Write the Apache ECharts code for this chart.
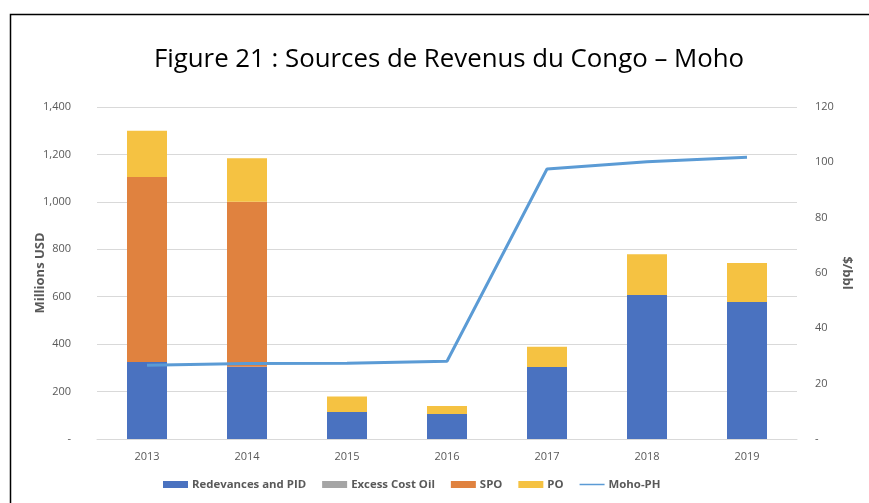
<!DOCTYPE html>
<html><head><meta charset="utf-8">
<script src="https://cdn.jsdelivr.net/npm/echarts@6/dist/echarts.min.js"></script>
<style>html,body{margin:0;padding:0;background:#fff}#c{width:869px;height:503px}</style>
</head><body><div id="c"></div>
<script>
const categories = ['2013','2014','2015','2016','2017','2018','2019'];
const redevances = [325, 305, 114, 105, 304, 607, 578];
const excessCostOil = [0, 0, 0, 0, 0, 0, 0];
const spo = [780, 695, 0, 0, 0, 0, 0];
const po = [195, 184, 65, 34, 85, 172, 164];
const mohoPH = [26.7, 27.3, 27.4, 28.1, 97.6, 100.2, 101.8];
const leftTicks = ['-', '200', '400', '600', '800', '1,000', '1,200', '1,400'];
const rightTicks = ['-', '20', '40', '60', '80', '100', '120'];

const font = 'Open Sans, Liberation Sans, sans-serif';
const lineIcon = 'path://M0,0h0.01v0.01h-0.01z M0,2.6h26v1.8h-26z M0,7h0.01v0.01h-0.01z';
const chart = echarts.init(document.getElementById('c'));
chart.setOption({
  animation: false,
  textStyle: {fontFamily: font},
  title: {text: 'Figure 21 : Sources de Revenus du Congo \u2013 Moho', left: 444, textAlign: 'center', top: 42,
    textStyle: {fontSize: 25.8, fontWeight: 'normal', color: '#000', fontFamily: font}},
  graphic: [{type: 'rect', shape: {x: 10.5, y: 14.5, width: 900, height: 600}, style: {fill: 'none', stroke: '#000', lineWidth: 1.5}, silent: true}],
  grid: {left: 97, right: 72, top: 107, bottom: 64},
  legend: {bottom: 8, left: 158, itemWidth: 25, itemHeight: 7, itemGap: 16,
    textStyle: {fontSize: 11.4, fontWeight: 'bold', color: '#595959', fontFamily: font, padding: [0, 0, 0, -1]},
    data: [{name: 'Redevances and PID', icon: 'rect'}, {name: 'Excess Cost Oil', icon: 'rect'}, {name: 'SPO', icon: 'rect'}, {name: 'PO', icon: 'rect'}, {name: 'Moho-PH', icon: lineIcon}]},
  xAxis: {type: 'category', data: categories,
    axisLine: {lineStyle: {color: '#d9d9d9'}}, axisTick: {show: false},
    axisLabel: {color: '#595959', fontSize: 11, margin: 12}},
  yAxis: [
    {type: 'value', min: 0, max: 1400, interval: 200, name: 'Millions USD', nameLocation: 'middle', nameGap: 50, nameMoveOverlap: false,
      nameTextStyle: {fontSize: 13, fontWeight: 'bold', color: '#595959'},
      axisLabel: {color: '#595959', fontSize: 11, margin: 26, formatter: (v) => leftTicks[Math.round(v / 200)]},
      splitLine: {lineStyle: {color: '#d9d9d9', width: 1}}, axisLine: {show: false}, axisTick: {show: false}},
    {type: 'value', min: 0, max: 120, interval: 20, name: '$/bbl', nameLocation: 'middle', nameGap: 43, nameRotate: -90, nameMoveOverlap: false,
      nameTextStyle: {fontSize: 13, fontWeight: 'bold', color: '#595959'},
      axisLabel: {color: '#595959', fontSize: 11, margin: 18, formatter: (v) => rightTicks[Math.round(v / 20)]},
      splitLine: {show: false}, axisLine: {show: false}, axisTick: {show: false}}
  ],
  series: [
    {name: 'Redevances and PID', type: 'bar', stack: 's', barWidth: '40%', data: redevances, itemStyle: {color: '#4A72C0'}},
    {name: 'Excess Cost Oil', type: 'bar', stack: 's', data: excessCostOil, itemStyle: {color: '#A5A5A5'}},
    {name: 'SPO', type: 'bar', stack: 's', data: spo, itemStyle: {color: '#E0823F'}},
    {name: 'PO', type: 'bar', stack: 's', data: po, itemStyle: {color: '#F5C242'}},
    {name: 'Moho-PH', type: 'line', yAxisIndex: 1, data: mohoPH, showSymbol: false, symbol: 'none',
      lineStyle: {color: '#5B9BD5', width: 3}, itemStyle: {color: '#5B9BD5'}}
  ]
});
</script></body></html>
